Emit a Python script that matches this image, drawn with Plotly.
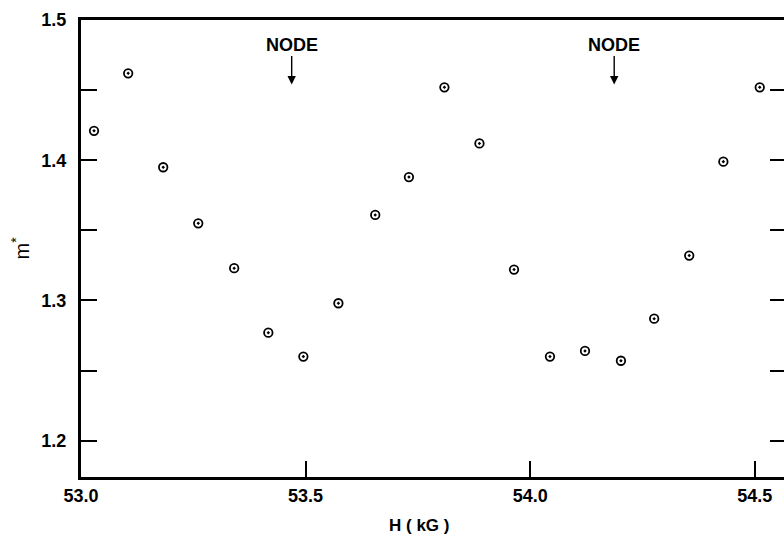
import plotly.graph_objects as go

# Data
H_kG = [53.029, 53.105, 53.183, 53.261, 53.341, 53.417, 53.495, 53.573, 53.655, 53.730,
        53.809, 53.887, 53.964, 54.044, 54.122, 54.202, 54.276, 54.354, 54.430, 54.511]
m_star = [1.421, 1.462, 1.395, 1.355, 1.323, 1.277, 1.260, 1.298, 1.361, 1.388,
          1.452, 1.412, 1.322, 1.260, 1.264, 1.257, 1.287, 1.332, 1.399, 1.452]

node_H = [53.469, 54.187]
node_label = "NODE"

x_tickvals = [53.0, 53.5, 54.0, 54.5]
x_ticktext = ["53.0", "53.5", "54.0", "54.5"]
y_tickvals = [1.2, 1.3, 1.4, 1.5]
y_ticktext = ["1.2", "1.3", "1.4", "1.5"]
y_minor_tickvals = [1.25, 1.35, 1.45]
y_all_tickvals = [1.20, 1.25, 1.30, 1.35, 1.40, 1.45, 1.50]

x_range = [53.0, 54.565]
y_range = [1.1741, 1.5]

FONT = "Liberation Sans"

fig = go.Figure()
fig.add_trace(go.Scatter(
    x=H_kG, y=m_star, mode="markers",
    marker=dict(symbol="circle-open-dot", size=8.5, color="black",
                line=dict(width=1.8, color="black")),
    showlegend=False, hoverinfo="skip",
))
# invisible companion trace so the right-hand tick axis is drawn
fig.add_trace(go.Scatter(
    x=H_kG, y=m_star, mode="markers", yaxis="y2",
    marker=dict(size=1, opacity=0), showlegend=False, hoverinfo="skip",
))

annotations = []
for h in node_H:
    annotations.append(dict(
        x=h, y=1.454, xref="x", yref="y", text="<b>" + node_label + "</b>",
        showarrow=True, ax=0, ay=-40, arrowhead=2, arrowsize=1.2,
        arrowwidth=1.4, arrowcolor="black", standoff=0,
        font=dict(family=FONT, size=18, color="black"),
    ))
annotations.append(dict(
    x=0.481, y=0, xref="paper", yref="paper", text="<b>H ( kG )</b>",
    showarrow=False, xanchor="center", yanchor="middle", yshift=-48,
    font=dict(family=FONT, size=17, color="black"),
))
annotations.append(dict(
    x=0, y=0.5, xref="paper", yref="paper", text="m<sup>*</sup>",
    showarrow=False, xanchor="center", yanchor="middle", xshift=-61,
    textangle=-90, font=dict(family=FONT, size=20, color="black"),
))

fig.update_layout(
    width=784, height=534,
    margin=dict(l=81, r=0, t=20, b=57, autoexpand=False),
    paper_bgcolor="white", plot_bgcolor="white",
    font=dict(family=FONT, size=18, color="black"),
    annotations=annotations,
    xaxis=dict(
        range=x_range, tickvals=x_tickvals, ticktext=x_ticktext,
        ticks="inside", ticklen=16, tickwidth=2, tickcolor="black",
        showline=True, linewidth=3, linecolor="black", mirror=True,
        showgrid=False, zeroline=False, automargin=False,
        tickfont=dict(family=FONT, size=18, color="black", weight="bold"),
    ),
    yaxis=dict(
        range=y_range, tickvals=y_tickvals, ticktext=y_ticktext,
        ticks="inside", ticklen=16, tickwidth=2, tickcolor="black",
        minor=dict(tickvals=y_minor_tickvals, ticks="inside", ticklen=16,
                   tickwidth=2, tickcolor="black", showgrid=False),
        showline=True, linewidth=3, linecolor="black",
        showgrid=False, zeroline=False, ticklabelstandoff=8, automargin=False,
        tickfont=dict(family=FONT, size=18, color="black", weight="bold"),
    ),
    yaxis2=dict(
        range=y_range, overlaying="y", side="right", anchor="x",
        tickvals=y_all_tickvals, showticklabels=False, automargin=False,
        ticks="inside", ticklen=14, tickwidth=2, tickcolor="black",
        showline=False, showgrid=False, zeroline=False,
    ),
)

fig.write_html("out.html", config={"displayModeBar": False},
               post_script="document.body.style.margin='0';")
